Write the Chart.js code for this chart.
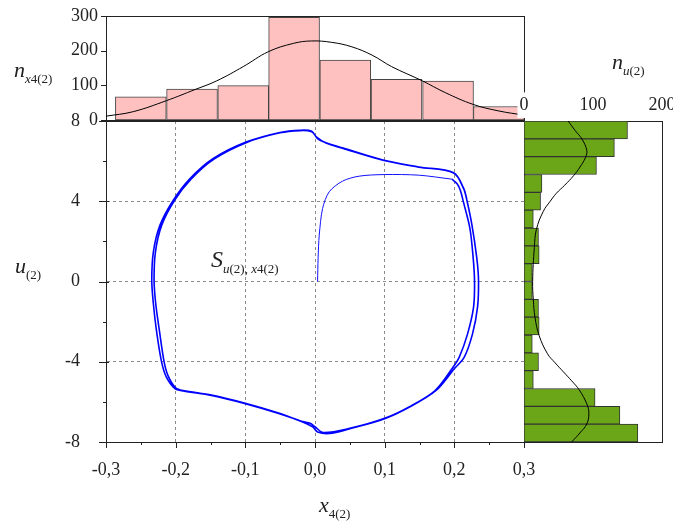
<!DOCTYPE html>
<html>
<head>
<meta charset="utf-8">
<script src="https://cdn.jsdelivr.net/npm/chart.js"></script>
<style>
body { margin:0; background:#fff; }
#wrap { position:relative; width:673px; height:522px; overflow:hidden; font-family:'Liberation Serif', serif; color:#222; }
canvas { position:absolute; }
.lbl { position:absolute; font-size:22px; line-height:1; white-space:nowrap; }
.lbl sub { font-size:13px; vertical-align:-6px; line-height:0; }
</style>
</head>
<body>
<div id="wrap">
<canvas id="topChart" width="560" height="140" style="left:0px;top:0px"></canvas>
<canvas id="mainChart" width="560" height="420" style="left:0px;top:100px"></canvas>
<canvas id="sideChart" width="173" height="372" style="left:500px;top:80px"></canvas>
<div class="lbl" style="left:14px;top:59px"><i>n</i><sub><i>x</i>4(2)</sub></div>
<div class="lbl" style="left:612px;top:51px"><i>n</i><sub><i>u</i>(2)</sub></div>
<div class="lbl" style="left:15px;top:255px"><i>u</i><sub>(2)</sub></div>
<div class="lbl" style="left:319px;top:494px"><i>x</i><sub>4(2)</sub></div>
<div class="lbl" style="left:211px;top:247px;font-size:24px"><i>S</i><sub><i>u</i>(2), <i>x</i>4(2)</sub></div>
</div>
<script>
// tick values
var xTicks = [-0.3, -0.2, -0.1, 0, 0.1, 0.2, 0.3]
var xMinor = [-0.25, -0.15, -0.05, 0.05, 0.15, 0.25]
var uTicks = [8, 4, 0, -4, -8]
var uMinor = [6, 2, -2, -6]
var nxTicks = [0, 100, 200, 300]
var nuTicks = [0, 100, 200]

// histogram of x4(2) (top)
var xBins = [-0.250, -0.1765, -0.103, -0.030, 0.0435, 0.117, 0.191, 0.264]
var xCounts = [67, 89, 99, 296, 173, 117, 112, 39]
var xFitX = [-0.3, -0.261, -0.213, -0.172, -0.141, -0.103, -0.067, -0.031, -0.005, 0.024, 0.053, 0.082, 0.11, 0.154, 0.187, 0.227, 0.264, 0.3]
var xFitN = [11, 24, 56, 88, 113, 154, 197, 221, 228, 224, 211, 187, 154, 113, 79, 45, 26, 14]

// histogram of u(2) (right)
var uBins = [7.556, 6.667, 5.778, 4.889, 4.0, 3.111, 2.222, 1.333, 0.444, -0.444, -1.333, -2.222, -3.111, -4.0, -4.889, -5.778, -6.667, -7.556]
var uCounts = [150, 131, 105, 26, 24, 13.5, 21, 22, 12, 12, 21, 22, 12, 21, 13.5, 103, 139, 165]
var uFitU = [8, 7.53, 7.1, 6.53, 6.17, 5.7, 5.28, 4.8, 4.4, 4.0, 3.5, 2.6, 1.7, 0, -0.9, -1.8, -2.7, -3.6, -4.05, -4.5, -4.95, -5.4, -6.1, -6.57, -7.1, -7.55, -8]
var uFitN = [64, 74, 84, 91, 89, 81, 72, 59, 47, 38, 28, 18, 15, 12.5, 13.5, 16, 22, 34, 45, 57, 69, 80, 91, 94, 91, 81, 69]

// phase trajectory: transient part and the limit cycle
var startX = [0.0037, 0.0045, 0.0061, 0.0109, 0.0204, 0.0394, 0.0633, 0.099, 0.149, 0.1966]
var startU = [0, 1.2, 2.31, 3.64, 4.47, 5.0, 5.25, 5.33, 5.3, 5.1]
var cycleX = [0.1966, 0.2037, 0.2086, 0.2133, 0.2224, 0.2271, 0.229, 0.2276, 0.219, 0.2071, 0.1976, 0.172, 0.1357, 0.1, 0.05, 0.0119, 0, -0.0071, -0.0177, -0.051, -0.1, -0.1486, -0.189, -0.2, -0.211, -0.2167, -0.2234, -0.2286, -0.231, -0.229, -0.22, -0.2015, -0.178, -0.145, -0.098, -0.0503, -0.0215, -0.0048, 0.0024, 0.0157, 0.0394, 0.099, 0.149, 0.199,
  0.2133, 0.218, 0.2253, 0.2323, 0.2347, 0.2333, 0.2261, 0.2143, 0.2, 0.1738, 0.1357, 0.1, 0.05, 0.0204, 0.0037, -0.0034, -0.0177, -0.051, -0.1, -0.1486, -0.189, -0.201, -0.2133, -0.2204, -0.2276, -0.232, -0.2343, -0.232, -0.2225, -0.2034, -0.1794, -0.146, -0.098, -0.0503, -0.0215, -0.0048, 0.0037, 0.0157, 0.0394, 0.099, 0.149, 0.199, 0.2133, 0.218]
var cycleU = [5.1, 4.88, 4.55, 3.93, 2.64, 1.15, 0, -1.28, -2.61, -3.77, -4.3, -5.45, -6.24, -6.82, -7.32, -7.53, -7.24, -7.07, -6.98, -6.57, -6.07, -5.66, -5.44, -5.3, -4.69, -3.98, -2.44, -1.11, 0.05, 1.48, 2.81, 4.05, 5.1, 6.1, 6.93, 7.41, 7.52, 7.47, 7.2, 6.9, 6.64, 6.03, 5.7, 5.41,
  4.63, 4.05, 2.81, 1.15, 0.05, -1.28, -2.61, -3.77, -4.35, -5.43, -6.26, -6.84, -7.34, -7.58, -7.5, -7.25, -7.0, -6.59, -6.09, -5.68, -5.46, -5.34, -4.77, -3.98, -2.44, -1.11, 0.05, 1.48, 2.81, 4.05, 5.13, 6.13, 6.96, 7.43, 7.54, 7.49, 7.12, 6.92, 6.66, 6.04, 5.71, 5.42, 4.65, 4.1]

Chart.defaults.font.family = "'Liberation Serif', serif"
Chart.defaults.font.size = 18
Chart.defaults.color = '#222'
Chart.defaults.plugins.legend.display = false
Chart.defaults.plugins.tooltip.enabled = false

function points(xs, ys){
    var result = []
    for(var i = 0; i < xs.length; i++){
        result.push({x: xs[i], y: ys[i]})
    }
    return result
}
function fixed(list){
    return function(s){ s.ticks = list.map(function(v){ return {value: v} }) }
}
function marks(major, minor, outLen, inLen, minorLen){
    return major.map(function(v){ return [v, outLen, inLen] })
        .concat(minor.map(function(v){ return [v, minorLen, 0] }))
}
// fixed axis size, and no extra label padding pushed into the layout
function size(w, h){
    return function(s){
        if(w !== null) s.width = w
        if(h !== null) s.height = h
        s.paddingTop = 0; s.paddingBottom = 0; s.paddingLeft = 0; s.paddingRight = 0
    }
}
// axis used only to draw a frame line
function edge(pos, px){
    var horizontal = (pos == 'top' || pos == 'bottom')
    return {
        type: 'linear', position: pos,
        grid: {display: false, drawTicks: false},
        ticks: {display: false},
        border: {color: '#222', width: 1},
        afterFit: horizontal ? size(null, px) : size(px, null)
    }
}

// draws tick marks (major and minor) on the x and y axes
var tickMarks = {
    id: 'tickMarks',
    afterDraw: function(chart, args, opts){
        var ctx = chart.ctx, a = chart.chartArea
        ctx.save()
        ctx.strokeStyle = '#222'
        ctx.lineWidth = 1
        ;(opts.x || []).forEach(function(t){
            var p = Math.round(chart.scales.x.getPixelForValue(t[0])) + 0.5
            ctx.beginPath(); ctx.moveTo(p, a.bottom - t[2]); ctx.lineTo(p, a.bottom + t[1]); ctx.stroke()
        })
        ;(opts.y || []).forEach(function(t){
            var p = Math.round(chart.scales.y.getPixelForValue(t[0])) + 0.5
            ctx.beginPath(); ctx.moveTo(a.left - t[1], p); ctx.lineTo(a.left + t[2], p); ctx.stroke()
        })
        ctx.restore()
    }
}

function gridColor(limit){
    return function(c){
        if(c.tick && Math.abs(c.tick.value) >= limit - 1e-9) return 'rgba(0,0,0,0)'
        return '#8a8a8a'
    }
}

var mainChart = new Chart(document.getElementById('mainChart'), {
    type: 'scatter',
    data: {
        datasets: [{
            data: points(startX, startU),
            showLine: true, borderColor: '#1010ff', borderWidth: 1,
            pointRadius: 0, tension: 0.3
        }, {
            data: points(cycleX, cycleU),
            showLine: true, borderColor: '#0000ff', borderWidth: 1.6,
            pointRadius: 0, tension: 0.32
        }]
    },
    plugins: [tickMarks],
    options: {
        responsive: false, devicePixelRatio: 1, animation: false,
        layout: {autoPadding: false, padding: {top: 21, right: 36, left: 0, bottom: 0}},
        plugins: {
            tickMarks: {x: marks(xTicks, xMinor, 6, 0, 3), y: marks(uTicks, uMinor, 7, 3, 3)}
        },
        scales: {
            x: {
                type: 'linear', min: -0.3, max: 0.3,
                afterBuildTicks: fixed(xTicks),
                ticks: {
                    padding: 17, maxRotation: 0, autoSkip: false,
                    callback: function(v){
                        if(Math.abs(v) < 1e-9) v = 0
                        return v.toFixed(1).replace('.', ',')
                    }
                },
                grid: {drawTicks: false, color: gridColor(0.3)},
                border: {color: '#222', dash: [3, 3]},
                afterFit: size(null, 78)
            },
            y: {
                type: 'linear', min: -8, max: 8,
                afterBuildTicks: fixed(uTicks),
                ticks: {padding: 26, autoSkip: false},
                grid: {drawTicks: false, color: gridColor(8)},
                border: {color: '#222', dash: [3, 3]},
                afterFit: size(106, null)
            },
            x2: edge('top', 0),
            y2: edge('right', 0)
        }
    }
})

var topChart = new Chart(document.getElementById('topChart'), {
    type: 'bar',
    data: {
        datasets: [{
            type: 'line', data: points(xFitX, xFitN),
            borderColor: '#000', borderWidth: 1, pointRadius: 0, tension: 0.4, order: 0
        }, {
            type: 'bar', data: points(xBins, xCounts),
            backgroundColor: '#ffc0c0', borderColor: '#444', borderWidth: 1, borderSkipped: false,
            barPercentage: 1, categoryPercentage: 1, order: 1
        }]
    },
    plugins: [tickMarks],
    options: {
        responsive: false, devicePixelRatio: 1, animation: false,
        layout: {autoPadding: false, padding: {top: 16, right: 36, left: 0, bottom: 0}},
        plugins: {tickMarks: {y: marks(nxTicks, [], 5, 0, 0)}},
        scales: {
            x: {
                type: 'linear', min: -0.3, max: 0.3, offset: false,
                ticks: {display: false, stepSize: 0.3},
                grid: {display: false, drawTicks: false, offset: false},
                border: {color: '#222'},
                afterFit: size(null, 20)
            },
            y: {
                type: 'linear', min: 0, max: 300,
                afterBuildTicks: fixed(nxTicks),
                ticks: {padding: 8},
                grid: {display: false, drawTicks: false},
                border: {color: '#222'},
                afterFit: size(106, null)
            },
            x2: edge('top', 0),
            y2: edge('right', 0)
        }
    }
})

var sideChart = new Chart(document.getElementById('sideChart'), {
    type: 'bar',
    data: {
        datasets: [{
            type: 'line', indexAxis: 'y', data: points(uFitN, uFitU),
            borderColor: '#000', borderWidth: 1, pointRadius: 0, tension: 0.4, order: 0
        }, {
            type: 'bar', indexAxis: 'y', data: points(uCounts, uBins),
            backgroundColor: '#6aa617', borderColor: '#333', borderWidth: 1, borderSkipped: false,
            barPercentage: 1, categoryPercentage: 1, order: 1
        }]
    },
    options: {
        indexAxis: 'y',
        responsive: false, devicePixelRatio: 1, animation: false,
        layout: {autoPadding: false, padding: 0},
        scales: {
            x: {
                type: 'linear', position: 'top', min: 0, max: 200,
                afterBuildTicks: fixed(nuTicks),
                ticks: {padding: 5, showLabelBackdrop: true, backdropColor: '#fff', backdropPadding: 2},
                grid: {display: false, drawTicks: false},
                border: {color: '#222'},
                afterFit: size(null, 41)
            },
            y: {
                type: 'linear', min: -8, max: 8, offset: false,
                ticks: {display: false, stepSize: 8},
                grid: {display: false, drawTicks: false, offset: false},
                border: {color: '#222'},
                afterFit: size(24, null)
            },
            x2: edge('bottom', 10),
            y2: edge('right', 11)
        }
    }
})
</script>
</body>
</html>
